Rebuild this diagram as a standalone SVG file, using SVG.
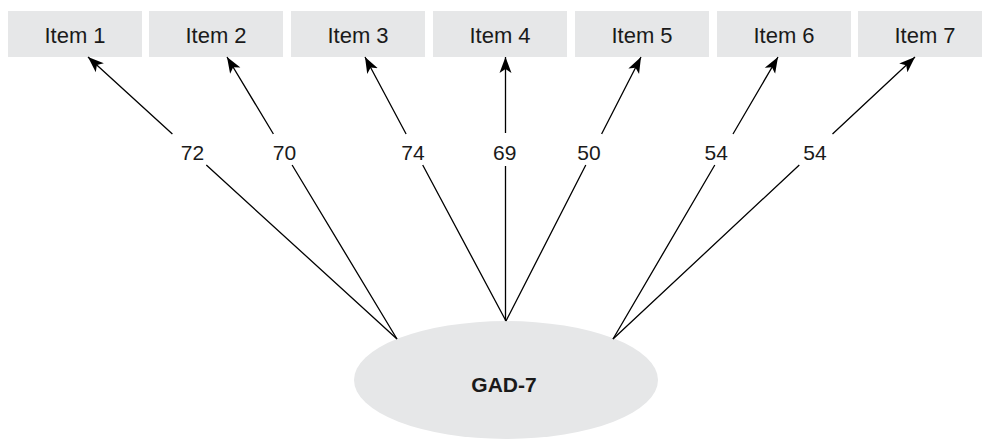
<svg xmlns="http://www.w3.org/2000/svg" width="983" height="439" viewBox="0 0 983 439">
  <style>
    .box { fill: #e6e7e8; }
    .lbl { font-family: "Liberation Sans", Arial, sans-serif; font-size: 21px; fill: #1a1a1a; text-anchor: middle; }
    .item { font-size: 22px; }
    .bold { font-weight: bold; }
    .edge { fill: none; stroke: #000; stroke-width: 1.3; marker-end: url(#arrow); }
  </style>
  <defs>
    <marker id="arrow" markerUnits="userSpaceOnUse" markerWidth="17" markerHeight="13" viewBox="-16 -6.5 17 13" refX="0" refY="0" orient="auto">
      <path d="M0,0 L-16,-6 L-12,0 L-16,6 Z" fill="#000"/>
    </marker>
  </defs>
  <rect width="983" height="439" fill="#fff"/>

  <!-- latent factor -->
  <g id="gad7">
    <ellipse class="box" cx="506" cy="380" rx="152" ry="59"/>
    <text class="lbl bold" x="504" y="392">GAD-7</text>
  </g>

  <!-- indicator items -->
  <g id="item1"><rect class="box" x="8" y="11" width="134" height="46"/><text class="lbl item" x="75" y="42.5">Item 1</text></g>
  <g id="item2"><rect class="box" x="149" y="11" width="134" height="46"/><text class="lbl item" x="216" y="42.5">Item 2</text></g>
  <g id="item3"><rect class="box" x="291" y="11" width="134" height="46"/><text class="lbl item" x="358" y="42.5">Item 3</text></g>
  <g id="item4"><rect class="box" x="433" y="11" width="134" height="46"/><text class="lbl item" x="500" y="42.5">Item 4</text></g>
  <g id="item5"><rect class="box" x="575" y="11" width="134" height="46"/><text class="lbl item" x="642" y="42.5">Item 5</text></g>
  <g id="item6"><rect class="box" x="717" y="11" width="134" height="46"/><text class="lbl item" x="784" y="42.5">Item 6</text></g>
  <g id="item7"><rect class="box" x="858" y="11" width="124" height="46"/><text class="lbl item" x="925" y="42.5">Item 7</text></g>

  <!-- loadings: each path breaks around its label -->
  <g id="connectors">
    <path class="edge" d="M397,339 L206.3,165 M172.4,134 L88,57"/>
    <path class="edge" d="M397,339 L292.1,165 M273.4,134 L227,57"/>
    <path class="edge" d="M506,321 L422.7,165 M406.1,134 L365,57"/>
    <path class="edge" d="M505.5,321 L505.5,166 M505.5,133 L505.5,57"/>
    <path class="edge" d="M506,321 L585.8,165 M601.6,134 L641,57"/>
    <path class="edge" d="M613,339 L714.8,165 M733,134 L778,57"/>
    <path class="edge" d="M613,339 L799.3,165 M832.5,134 L915,57"/>
    <text class="lbl" x="192.5" y="159.5">72</text>
    <text class="lbl" x="284.5" y="159.5">70</text>
    <text class="lbl" x="413" y="159.5">74</text>
    <text class="lbl" x="504.7" y="159.5">69</text>
    <text class="lbl" x="589" y="159.5">50</text>
    <text class="lbl" x="716.3" y="159.5">54</text>
    <text class="lbl" x="815" y="159.5">54</text>
  </g>
</svg>
